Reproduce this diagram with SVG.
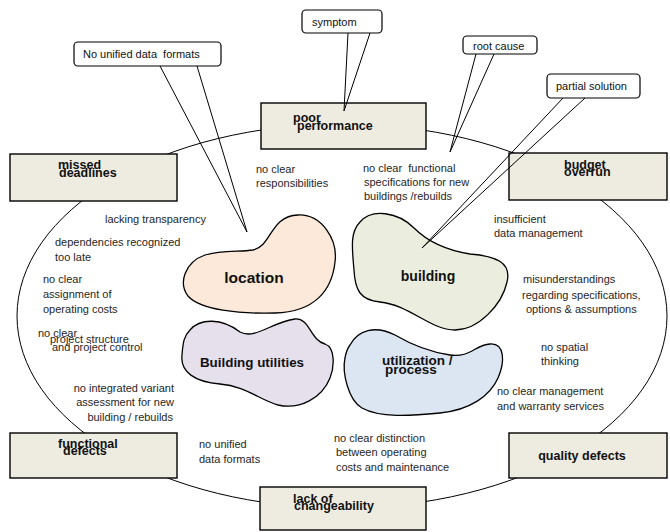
<svg xmlns="http://www.w3.org/2000/svg" width="670" height="532" viewBox="0 0 670 532">
<style>
.box{fill:#EEECE1;stroke:#000;stroke-width:1.4}
.bt{font-family:"Liberation Sans",Arial,sans-serif;font-weight:bold;font-size:12.5px;fill:#111}
.blobt{font-family:"Liberation Sans",Arial,sans-serif;font-weight:bold;fill:#111}
.blob{stroke:#000;stroke-width:1.3}
.lt{font-family:"Liberation Sans",Arial,sans-serif;font-size:11px;fill:#262626}
.co{fill:#fff;stroke:#000;stroke-width:1.2}
.ct{font-family:"Liberation Sans",Arial,sans-serif;font-size:11px;fill:#111;white-space:pre}
.tail{fill:none;stroke:#000;stroke-width:1}
.ring{fill:none;stroke:#000;stroke-width:1}
</style>
<rect width="670" height="532" fill="#fff"/>
<g id="connectors">
<ellipse class="ring" cx="342" cy="316" rx="325" ry="192"/>
</g>
<g id="poor-performance">
<rect class="box" x="261" y="103" width="165" height="46"/>
<text class="bt" x="293" y="122">poor</text>
<text class="bt" x="297" y="130">performance</text>
</g>
<g id="missed-deadlines">
<rect class="box" x="10" y="154" width="167" height="47"/>
<text class="bt" x="58" y="169">missed</text>
<text class="bt" x="59" y="177">deadlines</text>
</g>
<g id="budget-overrun">
<rect class="box" x="509" y="153" width="158" height="47"/>
<text class="bt" x="564" y="169">budget</text>
<text class="bt" x="564" y="176">overrun</text>
</g>
<g id="functional-defects">
<rect class="box" x="10" y="433" width="167" height="45"/>
<text class="bt" x="58" y="448">functional</text>
<text class="bt" x="63" y="455">defects</text>
</g>
<g id="lack-of-changeability">
<rect class="box" x="260" y="487" width="166" height="43"/>
<text class="bt" x="293" y="503">lack of</text>
<text class="bt" x="294" y="510">changeability</text>
</g>
<g id="quality-defects">
<rect class="box" x="509" y="433" width="158" height="45"/>
<text class="bt" x="582" y="460" text-anchor="middle">quality defects</text>
</g>
<g id="location">
<path class="blob" fill="#FDE9D9" d="M 253 250 C 272 246, 270 216, 298 215 C 322 214, 338 240, 335 262 C 332 290, 315 312, 275 313 C 240 314, 200 310, 188 296 C 178 283, 185 262, 205 255 C 222 250, 240 252, 253 250 Z"/>
<text class="blobt" x="254" y="283" font-size="15.5" text-anchor="middle">location</text>
</g>
<g id="building">
<path class="blob" fill="#EBEEDE" d="M 360 222 C 372 208, 398 212, 414 228 C 428 242, 445 250, 470 254 C 495 256, 512 262, 507 282 C 502 305, 478 330, 455 330 C 430 330, 410 305, 380 302 C 360 300, 355 290, 354 270 C 352 248, 350 232, 360 222 Z"/>
<text class="blobt" x="428" y="281" font-size="14" text-anchor="middle">building</text>
</g>
<g id="building-utilities">
<path class="blob" fill="#E5E0EC" d="M 190 330 C 200 318, 222 318, 240 332 C 255 340, 272 322, 295 319 C 310 318, 310 340, 325 344 C 336 348, 334 368, 330 378 C 322 398, 300 410, 278 405 C 260 400, 245 386, 220 384 C 195 382, 180 372, 182 355 C 183 342, 184 336, 190 330 Z"/>
<text class="blobt" x="252" y="367" font-size="13.4" text-anchor="middle">Building utilities</text>
</g>
<g id="utilization-process">
<path class="blob" fill="#DCE6F2" d="M 350 345 C 358 330, 375 325, 395 335 C 412 345, 430 352, 450 355 C 470 358, 475 345, 490 344 C 505 343, 505 362, 498 378 C 490 396, 470 410, 440 413 C 410 416, 380 418, 362 408 C 348 400, 342 372, 345 358 C 346 352, 347 349, 350 345 Z"/>
<text class="blobt" x="382" y="365" font-size="13.5">utilization /</text>
<text class="blobt" x="385" y="374" font-size="13.5">process</text>
</g>
<g id="labels">
<text class="lt" x="256" y="173">no clear</text>
<text class="lt" x="256" y="187">responsibilities</text>
<text class="lt" x="363" y="172" style="white-space:pre">no clear  functional</text>
<text class="lt" x="364" y="186">specifications for new</text>
<text class="lt" x="364" y="200">buildings /rebuilds</text>
<text class="lt" x="105" y="223">lacking transparency</text>
<text class="lt" x="55" y="246">dependencies recognized</text>
<text class="lt" x="55" y="261">too late</text>
<text class="lt" x="43" y="283">no clear</text>
<text class="lt" x="43" y="298">assignment of</text>
<text class="lt" x="43" y="313">operating costs</text>
<text class="lt" x="38" y="337">no clear</text>
<text class="lt" x="50" y="343">project structure</text>
<text class="lt" x="52" y="351">and project control</text>
<text class="lt" x="174" y="392" text-anchor="end">no integrated variant</text>
<text class="lt" x="174" y="406" text-anchor="end">assessment for new</text>
<text class="lt" x="173" y="421" text-anchor="end">building / rebuilds</text>
<text class="lt" x="199" y="448">no unified</text>
<text class="lt" x="199" y="463">data formats</text>
<text class="lt" x="334" y="442">no clear distinction</text>
<text class="lt" x="336" y="456">between operating</text>
<text class="lt" x="336" y="471">costs and maintenance</text>
<text class="lt" x="494" y="223">insufficient</text>
<text class="lt" x="494" y="237">data management</text>
<text class="lt" x="523" y="283">misunderstandings</text>
<text class="lt" x="522" y="299">regarding specifications,</text>
<text class="lt" x="526" y="313">options &amp; assumptions</text>
<text class="lt" x="541" y="351">no spatial</text>
<text class="lt" x="541" y="365">thinking</text>
<text class="lt" x="497" y="395">no clear management</text>
<text class="lt" x="497" y="410">and warranty services</text>
</g>
<g id="callout-no-unified">
<rect class="co" x="74" y="42" width="147" height="24" rx="4"/>
<text class="ct" x="83" y="58" font-size="11.5">No unified data  formats</text>
<polyline class="tail" points="160,66 247,232 197,66"/>
</g>
<g id="callout-symptom">
<rect class="co" x="302" y="10" width="80" height="23" rx="4"/>
<text class="ct" x="312" y="26">symptom</text>
<polyline class="tail" points="348,33 344,111 370,33"/>
</g>
<g id="callout-root-cause">
<rect class="co" x="463" y="36" width="74" height="18" rx="4"/>
<text class="ct" x="473" y="50">root cause</text>
<polyline class="tail" points="476,54 450,152 494,54"/>
</g>
<g id="callout-partial-solution">
<rect class="co" x="547" y="74" width="93" height="24" rx="4"/>
<text class="ct" x="556" y="90">partial solution</text>
<polyline class="tail" points="563,98 422,248 585,98"/>
</g>
</svg>
